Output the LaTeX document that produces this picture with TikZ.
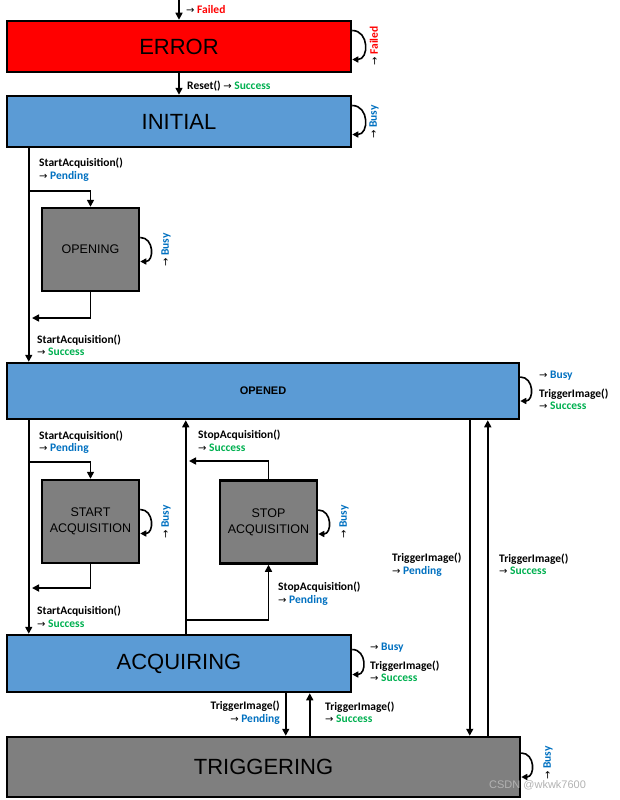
\documentclass[tikz,border=0pt]{standalone}
\usepackage{fontspec}
\setmainfont{Liberation Sans}
\newfontfamily\lblfont{Carlito}
\newfontfamily\arrfont{DejaVu Sans}
\usetikzlibrary{arrows.meta}
\definecolor{errred}{HTML}{FF0000}
\definecolor{stblue}{HTML}{5B9BD5}
\definecolor{stgray}{HTML}{7F7F7F}
\definecolor{pendblue}{HTML}{0070C0}
\definecolor{succgreen}{HTML}{00B050}
\newcommand{\ar}{{\arrfont\mdseries\fontsize{10}{10}\selectfont →}}
\newcommand{\pend}[1]{\textcolor{pendblue}{#1}}
\newcommand{\okay}[1]{\textcolor{succgreen}{#1}}
\newcommand{\fail}[1]{\textcolor{errred}{#1}}
\begin{document}
\begin{tikzpicture}[x=1pt, y=-1pt,
  state/.style={draw=black, line width=2.5pt, inner sep=0pt, align=center},
  bigstate/.style={state, minimum height=51pt, font=\fontsize{22}{24}\selectfont},
  smallstate/.style={state, fill=stgray, minimum width=97pt, minimum height=83pt, font=\fontsize{12.5}{16}\selectfont},
  arr/.style={-{Triangle[length=7pt,width=7pt]}, line width=1.6pt},
  looparr/.style={-{Triangle[length=6pt,width=6pt]}, line width=1.6pt, out=0, in=0, looseness=1.5},
  lbl/.style={inner sep=0pt, align=left, font=\lblfont\bfseries\fontsize{11.5}{12.5}\selectfont}]
\useasboundingbox (0,0) rectangle (620,800);
\node[bigstate, fill=errred, minimum width=344pt] (err) at (179,46.5) {ERROR};
\node[bigstate, fill=stblue, minimum width=344pt] (ini) at (179,121.5) {INITIAL};
\node[smallstate] (opening) at (90.5,249.5) {OPENING};
\node[state, fill=stblue, minimum width=512pt, minimum height=56pt, font=\bfseries\fontsize{11}{13}\selectfont] (opened) at (263,391) {OPENED};
\node[smallstate] (startacq) at (90.5,521.5) {START\\ACQUISITION};
\node[smallstate] (stopacq) at (268.5,522) {STOP\\ACQUISITION};
\node[bigstate, fill=stblue, minimum width=344pt, minimum height=57pt] (acq) at (179,663.5) {ACQUIRING};
\node[bigstate, fill=stgray, minimum width=513pt, minimum height=60pt] (trig) at (263.5,767) {TRIGGERING};
\coordinate (entry) at (179,0);
\coordinate (openret) at (32,318);
\coordinate (startret) at (32,588);
\coordinate (stopret) at (189,461);
\coordinate (stopfork) at (187,620);
\draw[arr] (entry) -- (err.north);
\draw[arr] (err.south) -- (ini.north);
\draw[arr] ([xshift=23]ini.south west) -- ([xshift=23]opened.north west);
\draw[arr] ([xshift=23,yshift=-43]ini.south west) -| (opening.north);
\draw[arr] (opening.south) |- (openret);
\draw[arr] ([xshift=23]opened.south west) -- ([xshift=23]acq.north west);
\draw[arr] ([xshift=23,yshift=-42]opened.south west) -| (startacq.north);
\draw[arr] (startacq.south) |- (startret);
\draw[arr] ([xshift=180]acq.north west) -- ([xshift=180]opened.south west);
\draw[arr] (stopacq.north) |- (stopret);
\draw[arr] (stopfork) -| (stopacq.south);
\draw[arr] ([xshift=464]opened.south west) -- ([xshift=464]trig.north west);
\draw[arr] ([xshift=482]trig.north west) -- ([xshift=482]opened.south west);
\draw[arr] ([xshift=280]acq.south west) -- ([xshift=280]trig.north west);
\draw[arr] ([xshift=304]trig.north west) -- ([xshift=304]acq.south west);
\draw[looparr] ([yshift=16]err.east) to ([yshift=-13]err.east);
\draw[looparr] ([yshift=16]ini.east) to ([yshift=-13]ini.east);
\draw[looparr] ([yshift=12]opening.east) to ([yshift=-12]opening.east);
\draw[looparr] ([yshift=14]opened.east) to ([yshift=-10]opened.east);
\draw[looparr] ([yshift=12]startacq.east) to ([yshift=-12]startacq.east);
\draw[looparr] ([yshift=12]stopacq.east) to ([yshift=-12]stopacq.east);
\draw[looparr] ([yshift=14]acq.east) to ([yshift=-11]acq.east);
\draw[looparr] ([yshift=14]trig.east) to ([yshift=-10]trig.east);
\node[lbl, anchor=west] (entrylbl) at (186,10) {\ar\ \fail{Failed}};
\node[lbl, anchor=west] (resetlbl) at (187,86) {Reset() \ar\ \okay{Success}};
\node[lbl, rotate=90] (errloop) at (374,46) {\ar\ \fail{Failed}};
\node[lbl, rotate=90] (iniloop) at (374,122) {\ar\ \pend{Busy}};
\node[lbl, anchor=west] (openpend) at (39,169.5) {StartAcquisition()\\\ar\ \pend{Pending}};
\node[lbl, rotate=90] (openingloop) at (166,250) {\ar\ \pend{Busy}};
\node[lbl, anchor=west] (opensucc) at (37,345.5) {StartAcquisition()\\\ar\ \okay{Success}};
\node[lbl, anchor=west] (openedbusy) at (539,376) {\ar\ \pend{Busy}};
\node[lbl, anchor=west] (openedloop) at (539,399.5) {TriggerImage()\\\ar\ \okay{Success}};
\node[lbl, anchor=west] (startpend) at (39,442) {StartAcquisition()\\\ar\ \pend{Pending}};
\node[lbl, rotate=90] (startloop) at (166,522) {\ar\ \pend{Busy}};
\node[lbl, anchor=west] (startsucc) at (37,617) {StartAcquisition()\\\ar\ \okay{Success}};
\node[lbl, anchor=west] (stopsucc) at (198,441) {StopAcquisition()\\\ar\ \okay{Success}};
\node[lbl, rotate=90] (stoploop) at (344,522) {\ar\ \pend{Busy}};
\node[lbl, anchor=west] (stoppend) at (278,593.5) {StopAcquisition()\\\ar\ \pend{Pending}};
\node[lbl, anchor=west] (trigpend) at (392,564.5) {TriggerImage()\\\ar\ \pend{Pending}};
\node[lbl, anchor=west] (trigsucc) at (499,564.5) {TriggerImage()\\\ar\ \okay{Success}};
\node[lbl, anchor=west] (acqbusy) at (370,648) {\ar\ \pend{Busy}};
\node[lbl, anchor=west] (acqloop) at (370,671.5) {TriggerImage()\\\ar\ \okay{Success}};
\node[lbl, anchor=east, align=right] (acqpend) at (280,712.5) {TriggerImage()\\\ar\ \pend{Pending}};
\node[lbl, anchor=west] (acqsucc) at (325,712.5) {TriggerImage()\\\ar\ \okay{Success}};
\node[lbl, rotate=90] (trigloop) at (548,763) {\ar\ \pend{Busy}};
\node[anchor=west, text=black!30, font=\fontsize{11}{13}\selectfont, inner sep=0pt] (mark) at (489,785) {CSDN @wkwk7600};
\end{tikzpicture}
\end{document}
